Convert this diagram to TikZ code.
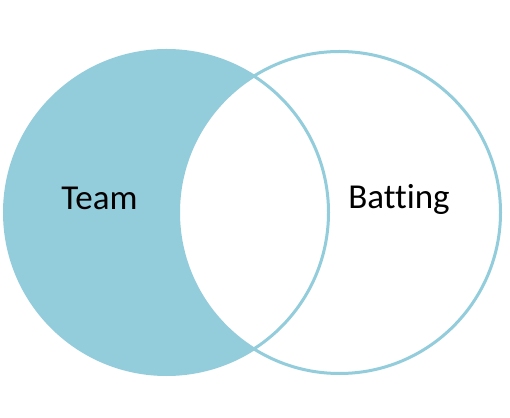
\documentclass[tikz,border=0pt]{standalone}
\usepackage{fontspec}
\setmainfont[Ligatures={NoCommon}]{Carlito}
\definecolor{aqua}{HTML}{93CDDC}
\begin{document}
\begin{tikzpicture}[x=1pt,y=1pt,
  setline/.style={draw=aqua,line width=3pt},
  lbl/.style={anchor=base,inner sep=0pt,font=\fontsize{35}{38}\selectfont,text=black}]
\useasboundingbox (0,0) rectangle (510,417);
\fill[white] (0,0) rectangle (510,417);
\coordinate (cl) at (166.5,204.5);
\coordinate (cr) at (339.5,204.5);
\fill[aqua] (cl) circle[radius=162];
\fill[white] (cr) circle[radius=161];
\draw[setline] (cl) circle[radius=162];
\draw[setline] (cr) circle[radius=161];
\node[lbl] (team) at (99.5,207.7) {Team};
\node[lbl] (batting) at (399,208.5) {Batting};
\end{tikzpicture}
\end{document}
